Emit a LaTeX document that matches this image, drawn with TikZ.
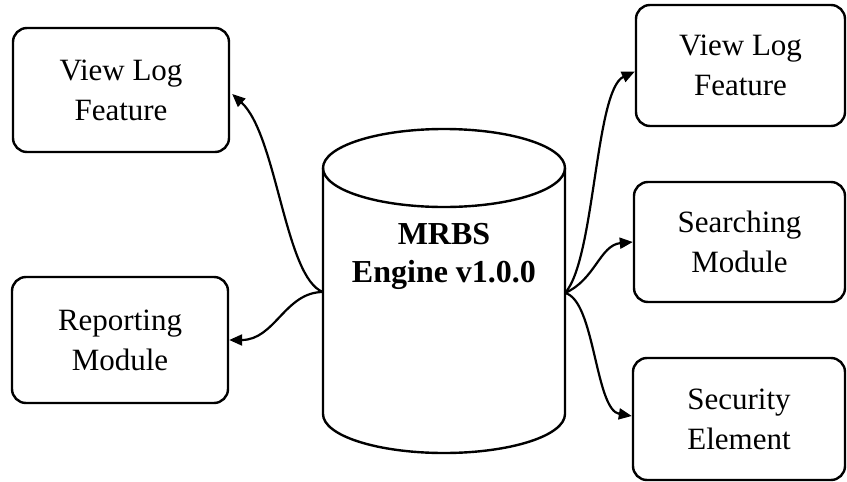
\documentclass[tikz,border=0pt]{standalone}
\usepackage{fontspec}
\setmainfont{Liberation Serif}
\usetikzlibrary{arrows.meta}
\begin{document}
\begin{tikzpicture}[x=1pt,y=-1pt,
  outline/.style={line width=2.4pt,draw=black},
  modbox/.style={outline,rounded corners=14pt,align=center,inner sep=0pt,
    font=\fontsize{31}{40}\selectfont},
  dbtext/.style={align=center,inner sep=0pt,font=\bfseries\fontsize{32}{38}\selectfont},
  conn/.style={line width=2.2pt,-{Triangle[length=13pt,width=11pt]}}]
\useasboundingbox (0,0) rectangle (847,482);
% nodes
\node[modbox,minimum width=216pt,minimum height=124pt] (lv) at (121,90) {View Log\\Feature};
\node[modbox,minimum width=216pt,minimum height=126pt] (rep) at (120,340) {Reporting\\Module};
\node[modbox,minimum width=209pt,minimum height=121pt] (rv) at (740.5,65.5) {View Log\\Feature};
\node[modbox,minimum width=211pt,minimum height=120pt] (srch) at (739.5,242) {Searching\\Module};
\node[modbox,minimum width=212pt,minimum height=122pt] (sec) at (739,419) {Security\\Element};
% cylinder
\draw[outline] (323,168) -- (323,414) arc[start angle=180,end angle=360,x radius=121pt,y radius=39pt] -- (565,168);
\draw[outline] (444,168) ellipse [x radius=121pt,y radius=39pt];
\node[dbtext] (db) at (444,256) {MRBS\\Engine v1.0.0};
\coordinate (dbL) at (323,292);
\coordinate (dbR) at (565,293);
% connectors
\draw[conn] (dbL) .. controls (285,278) and (277,135) .. ([xshift=2pt,yshift=-4pt]lv.east);
\draw[conn] (dbL) .. controls (285,292) and (275,340) .. (rep.east);
\draw[conn] (dbR) .. controls (595,260) and (595,90) .. ([yshift=-6pt]rv.west);
\draw[conn] (dbR) .. controls (595,280) and (600,245) .. (srch.west);
\draw[conn] (dbR) .. controls (595,300) and (595,410) .. ([yshift=3pt]sec.west);
\end{tikzpicture}
\end{document}
